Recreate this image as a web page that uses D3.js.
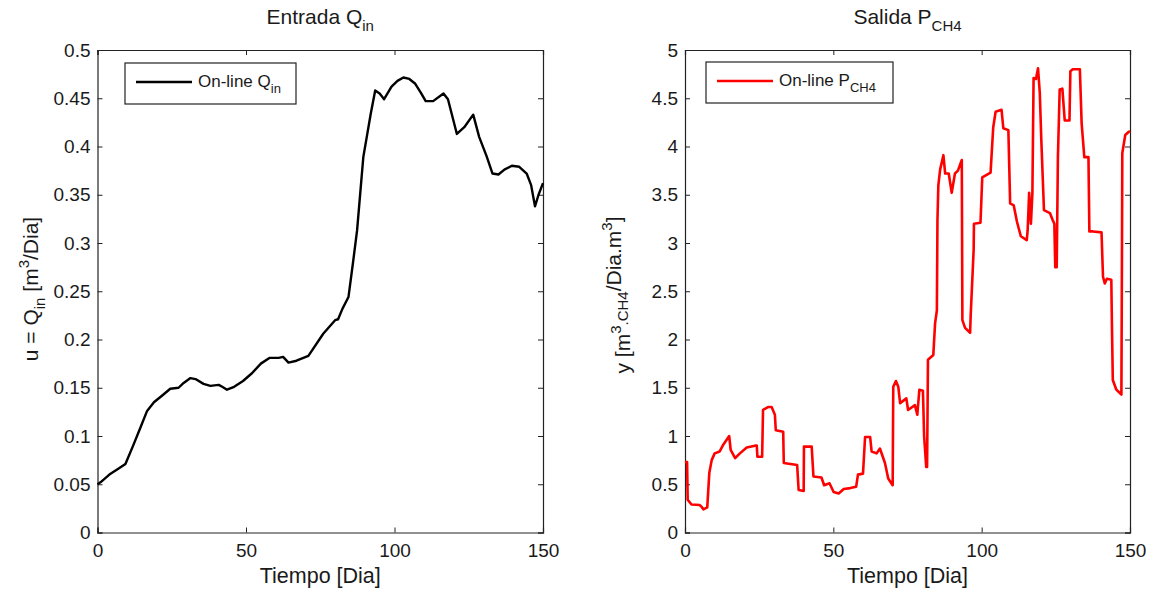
<!DOCTYPE html>
<html>
<head>
<meta charset="utf-8">
<script src="https://cdn.jsdelivr.net/npm/d3@7"></script>
<style>
  body { margin: 0; background: #fff; }
  svg { display: block; }
  text { font-family: "Liberation Sans", Arial, sans-serif; fill: #1a1a1a; }
  .domain { stroke: #222; }
  .tick line { stroke: #222; }
</style>
</head>
<body>
<svg id="viz"></svg>
<script>
var width = 1150;
var height = 594;

// x axis (both panels)
var xTicks = [0, 50, 100, 150];

// left panel: input flow Q_in
var qinTicks = [0, 0.05, 0.1, 0.15, 0.2, 0.25, 0.3, 0.35, 0.4, 0.45, 0.5];
var qinDays = [0, 1, 4, 7, 9.4, 12, 14.5, 16.7, 19, 21.8, 24.5, 27.3, 29, 31.3, 33, 35.7,
  38, 40.8, 42, 43.6, 46, 49, 52, 55, 58, 61, 62.5, 64.3, 67, 71, 76, 80, 81, 82.5, 84.5,
  86, 87.4, 89.5, 92, 93.5, 95, 96.5, 99, 101, 103, 105, 107, 109, 110.5, 113, 116.5, 118,
  121, 123.5, 126.5, 128.5, 131, 133, 135, 137, 139.5, 142, 144.5, 146, 147.3, 148.5, 150];
var qinValues = [0.05, 0.052, 0.06, 0.066, 0.071, 0.09, 0.109, 0.126, 0.135, 0.142, 0.149,
  0.15, 0.155, 0.16, 0.159, 0.154, 0.152, 0.153, 0.151, 0.148, 0.151, 0.157, 0.165, 0.175,
  0.181, 0.181, 0.182, 0.176, 0.178, 0.183, 0.206, 0.22, 0.221, 0.232, 0.244, 0.279, 0.313,
  0.389, 0.434, 0.458, 0.455, 0.449, 0.462, 0.468, 0.4715, 0.47, 0.465, 0.455, 0.447, 0.447,
  0.455, 0.449, 0.413, 0.42, 0.433, 0.41, 0.39, 0.372, 0.371, 0.376, 0.38, 0.379, 0.372,
  0.36, 0.338, 0.35, 0.362];

// right panel: methane production P_CH4
var pchTicks = [0, 0.5, 1, 1.5, 2, 2.5, 3, 3.5, 4, 4.5, 5];
var pchDays = [0, 0.7, 0.9, 2.2, 4.9, 5.5, 6.2, 7.5, 8.2, 9, 10, 11.7, 12.9, 14.9, 15.4, 16.9,
  18.5, 20.8, 23.6, 24.2, 24.4, 26, 26.3, 28, 29.2, 30.3, 30.6, 33.1, 33.3, 37.8, 38.3, 40,
  40.1, 42.7, 43.3, 46, 46.9, 48.7, 50.1, 51.8, 53.5, 55.7, 57.7, 58.3, 60, 60.7, 62.4, 62.9,
  64.6, 65.7, 67.4, 68.5, 70, 70.2, 71.1, 71.9, 72.5, 74.6, 75.2, 77.5, 78.3, 79, 80.2, 80.6,
  81.3, 81.6, 81.9, 83.7, 84.3, 84.9, 85.1, 85.4, 86, 87.1, 87.7, 88.9, 89.9, 91, 92, 93.3,
  93.5, 94.4, 96.1, 96.3, 97.3, 97.4, 99.6, 100.2, 103, 103.9, 104.7, 106.7, 107.3, 109,
  109.6, 110.8, 111.9, 113.2, 115.2, 115.5, 116, 116.6, 117.1, 117.5, 118.3, 119, 119.6,
  120.1, 121, 123, 123.9, 124.5, 124.8, 125.3, 125.7, 126.3, 127.2, 128, 129.6, 129.9, 130.7,
  133.1, 133.7, 134.6, 136, 136.3, 137.5, 140.4, 140.9, 141.5, 142.2, 143.7, 143.9, 144.2,
  145.4, 147.1, 147.3, 147.4, 148.4, 149.5, 150];
var pchValues = [0.73, 0.73, 0.34, 0.29, 0.285, 0.27, 0.24, 0.26, 0.62, 0.75, 0.82, 0.84, 0.91,
  1.0, 0.855, 0.77, 0.82, 0.88, 0.9, 0.9, 0.785, 0.785, 1.27, 1.3, 1.3, 1.22, 1.06, 1.045, 0.72,
  0.7, 0.44, 0.43, 0.89, 0.89, 0.58, 0.57, 0.49, 0.51, 0.42, 0.405, 0.45, 0.46, 0.475, 0.6,
  0.61, 0.99, 0.99, 0.84, 0.82, 0.87, 0.72, 0.56, 0.49, 1.51, 1.57, 1.51, 1.34, 1.39, 1.27,
  1.32, 1.22, 1.48, 1.47, 1.0, 0.68, 0.68, 1.79, 1.84, 2.17, 2.3, 3.24, 3.6, 3.76, 3.91, 3.72,
  3.72, 3.52, 3.72, 3.75, 3.86, 2.2, 2.12, 2.07, 2.25, 2.93, 3.2, 3.21, 3.68, 3.73, 4.2, 4.36,
  4.38, 4.19, 4.17, 3.41, 3.39, 3.22, 3.07, 3.03, 3.13, 3.52, 3.2, 3.52, 4.71, 4.7, 4.81, 4.55,
  4.07, 3.34, 3.31, 3.24, 3.2, 2.75, 2.75, 3.89, 4.59, 4.6, 4.27, 4.27, 4.78, 4.8, 4.8, 4.24,
  3.89, 3.89, 3.12, 3.12, 3.11, 2.65, 2.58, 2.63, 2.62, 2.17, 1.58, 1.48, 1.43, 2.96, 3.93,
  4.12, 4.15, 4.16];

var svg = d3.select("#viz").attr("width", width).attr("height", height);

// appends text made of pieces, each piece {t, sub, sup}
function richText(sel, parts, mainSize, subSize) {
    var shift = 0;
    parts.forEach(function(p) {
        var ts = sel.append("tspan").text(p.t);
        var target = p.sub ? subSize * 0.45 : (p.sup ? -mainSize * 0.42 : 0);
        ts.attr("dy", target - shift);
        if (p.sub || p.sup) ts.style("font-size", subSize + "px");
        shift = target;
    });
    return sel;
}

function drawPanel(cfg) {
    var x = d3.scaleLinear().domain([0, 150]).range([cfg.left, cfg.right]);
    var y = d3.scaleLinear().domain([0, cfg.ymax]).range([532.5, 50]);
    var g = svg.append("g");
    var fmt = function(d) { return String(+d.toFixed(2)); };

    g.append("g").attr("transform", "translate(0,532.5)")
        .call(d3.axisBottom(x).tickValues(xTicks).tickSize(-5).tickPadding(11).tickFormat(fmt));
    g.append("g").attr("transform", "translate(0,50)")
        .call(d3.axisTop(x).tickValues(xTicks).tickSize(-5).tickFormat(""));
    g.append("g").attr("transform", "translate(" + cfg.left + ",0)")
        .call(d3.axisLeft(y).tickValues(cfg.ticks).tickSize(-5).tickPadding(7).tickFormat(fmt));
    g.append("g").attr("transform", "translate(" + cfg.right + ",0)")
        .call(d3.axisRight(y).tickValues(cfg.ticks).tickSize(-5).tickFormat(""));
    g.selectAll(".tick text").style("font-size", "19px").attr("fill", "#1a1a1a");
    g.selectAll(".domain").attr("stroke-width", 1.2);

    var pts = cfg.days.map(function(d, i) { return [d, cfg.values[i]]; });
    var line = d3.line().x(function(d) { return x(d[0]); }).y(function(d) { return y(d[1]); });
    g.append("path").datum(pts)
        .attr("d", line)
        .attr("fill", "none")
        .attr("stroke", cfg.color)
        .attr("stroke-width", cfg.lw)
        .attr("stroke-linejoin", "round");

    // title
    richText(g.append("text")
        .attr("x", (cfg.left + cfg.right) / 2).attr("y", 24)
        .attr("text-anchor", "middle").style("font-size", "21px"), cfg.title, 21, 15);

    // x label
    g.append("text").attr("x", (cfg.left + cfg.right) / 2).attr("y", 583)
        .attr("text-anchor", "middle").style("font-size", "21.5px").text("Tiempo [Dia]");

    // y label
    richText(g.append("text")
        .attr("transform", "translate(" + cfg.ylabX + "," + cfg.ylabY + ") rotate(-90)")
        .attr("text-anchor", "middle").style("font-size", "21px"), cfg.ylabel, 21, 15);

    // legend
    var lg = g.append("g");
    lg.append("rect").attr("x", cfg.leg[0]).attr("y", cfg.leg[1])
        .attr("width", cfg.leg[2]).attr("height", cfg.leg[3])
        .attr("fill", "#fff").attr("stroke", "#222").attr("stroke-width", 1.2);
    lg.append("line").attr("x1", cfg.leg[0] + 11).attr("x2", cfg.leg[0] + 67)
        .attr("y1", cfg.leg[1] + 19).attr("y2", cfg.leg[1] + 19)
        .attr("stroke", cfg.color).attr("stroke-width", cfg.lw);
    richText(lg.append("text").attr("x", cfg.leg[0] + 73).attr("y", cfg.leg[1] + 24)
        .style("font-size", "17px"), cfg.legText, 17, 13);
}

drawPanel({
    left: 97.5, right: 543, ymax: 0.5, ticks: qinTicks,
    days: qinDays, values: qinValues, color: "#000", lw: 2.4,
    title: [{t: "Entrada Q"}, {t: "in", sub: true}],
    ylabel: [{t: "u = Q"}, {t: "in", sub: true}, {t: " [m"}, {t: "3", sup: true}, {t: "/Dia]"}],
    ylabX: 38, ylabY: 289,
    leg: [125, 63, 171, 41],
    legText: [{t: "On-line Q"}, {t: "in", sub: true}]
});

drawPanel({
    left: 685, right: 1130, ymax: 5, ticks: pchTicks,
    days: pchDays, values: pchValues, color: "#ff0000", lw: 2.6,
    title: [{t: "Salida P"}, {t: "CH4", sub: true}],
    ylabel: [{t: "y [m"}, {t: "3", sup: true}, {t: "", sub: false}, {t: ".CH4", sub: true}, {t: "/Dia.m"}, {t: "3", sup: true}, {t: "]"}],
    ylabX: 630, ylabY: 295,
    leg: [706, 62, 187, 41],
    legText: [{t: "On-line P"}, {t: "CH4", sub: true}]
});
</script>
</body>
</html>
